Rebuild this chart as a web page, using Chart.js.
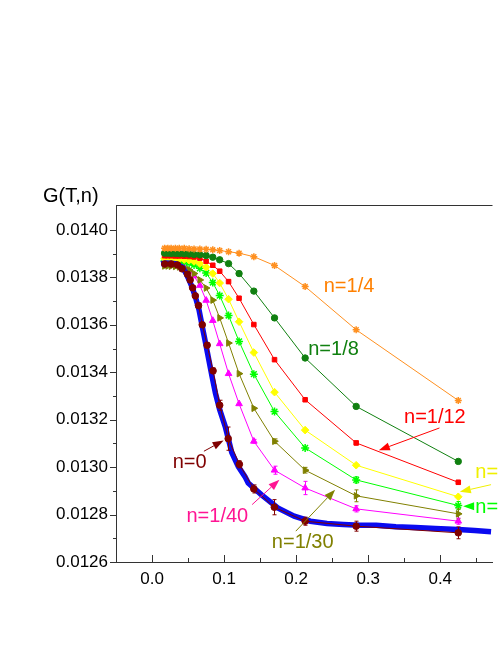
<!DOCTYPE html>
<html>
<head>
<meta charset="utf-8">
<script src="https://cdn.jsdelivr.net/npm/chart.js@4.4.0/dist/chart.umd.min.js"></script>
<style>
body { margin: 0; background: #fff; }
</style>
</head>
<body>
<canvas id="myChart-g" width="498" height="645"></canvas>
<script>
// temperature grid of the coloured series
const temps = [0.0174, 0.0219, 0.0265, 0.0324, 0.0378, 0.0447, 0.0515, 0.0583, 0.0664, 0.0751, 0.0843, 0.0939, 0.1062, 0.1208, 0.1413, 0.170, 0.2125, 0.2833, 0.425];

const gQuarter = [0.013923, 0.013923, 0.013923, 0.013923, 0.013923, 0.013923, 0.013921, 0.013920, 0.013919, 0.013918, 0.013916, 0.013913, 0.013908, 0.013902, 0.013887, 0.013850, 0.013761, 0.013579, 0.013281];
const gEighth = [0.013902, 0.013902, 0.013901, 0.013901, 0.013900, 0.013899, 0.013898, 0.013896, 0.013895, 0.013892, 0.013885, 0.013874, 0.013858, 0.013816, 0.013742, 0.013629, 0.013460, 0.013256, 0.013024];
const gTwelfth = [0.013891, 0.013891, 0.013891, 0.013890, 0.013890, 0.013889, 0.013888, 0.013886, 0.013881, 0.013868, 0.013851, 0.013826, 0.013782, 0.013712, 0.013601, 0.013453, 0.013284, 0.013102, 0.012936];
const gSixteenth = [0.013878, 0.013878, 0.013877, 0.013877, 0.013876, 0.013875, 0.013872, 0.013867, 0.013858, 0.013843, 0.013816, 0.013776, 0.013708, 0.013613, 0.013483, 0.013316, 0.013156, 0.013008, 0.012875];
const gTwentieth = [0.013869, 0.013869, 0.013868, 0.013867, 0.013866, 0.013864, 0.013860, 0.013852, 0.013838, 0.013818, 0.013778, 0.013723, 0.013639, 0.013530, 0.013392, 0.013234, 0.013081, 0.012946, 0.012838];
const gThirtieth = [0.013848, 0.013848, 0.013847, 0.013846, 0.013844, 0.013840, 0.013832, 0.013816, 0.013789, 0.013755, 0.013704, 0.013629, 0.013523, 0.013394, 0.013248, 0.013109, 0.012987, 0.012879, 0.012803];
const gFortieth = [0.013861, 0.013860, 0.013859, 0.013857, 0.013853, 0.013844, 0.013829, 0.013806, 0.013766, 0.013703, 0.013618, 0.013520, 0.013394, 0.013267, 0.013109, 0.012987, 0.012912, 0.012824, 0.012772];

// error bars (same index as temps)
const errTwelfth = [0,0,0,0,0,0,0,0,0,0,0,0,0,0,0,0,0,0.000008,0.000008];
const errTwentieth = [0,0,0,0,0,0,0,0,0,0,0,0,0,0,0,0,0,0.000013,0.000017];
const errThirtieth = [0,0,0,0,0,0,0,0,0,0,0,0,0,0,0,0.000010,0.000012,0.000025,0.000021];
const errFortieth = [0,0,0,0,0,0,0,0,0,0,0,0,0,0,0.000008,0.000017,0.000028,0.000013,0.000013];

// n=0, own temperature grid
const tZero = [0.0177, 0.0266, 0.0354, 0.0416, 0.0492, 0.0529, 0.0563, 0.0601, 0.0645, 0.0697, 0.0765, 0.0847, 0.0939, 0.1057, 0.1212, 0.1413, 0.1697, 0.2125, 0.2833, 0.425];
const gZero = [0.013856, 0.013856, 0.013852, 0.013836, 0.013813, 0.013789, 0.013756, 0.013722, 0.013681, 0.013600, 0.013514, 0.013406, 0.013261, 0.013120, 0.013012, 0.012908, 0.012831, 0.012772, 0.012751, 0.012723];
const errZero = [0, 0, 0, 0, 0, 0, 0.000008, 0.000008, 0.000010, 0.000010, 0.000010, 0.000012, 0.000021, 0.000049, 0.000015, 0.000017, 0.000032, 0.000017, 0.000021, 0.000025];

// dense blue curve
const tBlue = [0.0126, 0.0197, 0.0269, 0.0342, 0.0423, 0.0470, 0.0515, 0.0560, 0.0607, 0.0652, 0.0697, 0.0743, 0.0788, 0.0833, 0.0880, 0.0939, 0.1016, 0.1107, 0.1198, 0.1290, 0.1335, 0.1516, 0.1745, 0.1973, 0.2199, 0.2428, 0.2656, 0.2883, 0.3111, 0.3384, 0.3657, 0.3930, 0.4249, 0.4477, 0.4705];
const gBlue = [0.013857, 0.013860, 0.013859, 0.013857, 0.013843, 0.013818, 0.013789, 0.013755, 0.013712, 0.013663, 0.013593, 0.013523, 0.013453, 0.013382, 0.013312, 0.013242, 0.013171, 0.013061, 0.013002, 0.012960, 0.012933, 0.012884, 0.012828, 0.012793, 0.012772, 0.012762, 0.012758, 0.012755, 0.012755, 0.012749, 0.012745, 0.012741, 0.012737, 0.012733, 0.012728];

const xTicks = [0.0, 0.1, 0.2, 0.3, 0.4];
const xMinor = [-0.05, 0.05, 0.15, 0.25, 0.35, 0.45];
const yTicks = [0.0126, 0.0128, 0.0130, 0.0132, 0.0134, 0.0136, 0.0138, 0.0140];
const yMinor = [0.0127, 0.0129, 0.0131, 0.0133, 0.0135, 0.0137, 0.0139];

const FONT = '"Liberation Sans", Arial, sans-serif';

function pts(xs, ys) {
    return xs.map((x, i) => ({ x: x, y: ys[i] }));
}

function series(ys, color, style, radius, extra) {
    return Object.assign({
        data: pts(temps, ys),
        showLine: true,
        borderColor: color,
        backgroundColor: color,
        borderWidth: 1,
        pointStyle: style,
        pointRadius: radius,
        pointBorderWidth: 1,
        order: 2
    }, extra || {});
}

// text labels with arrows, in data units
const notes = [
    { text: 'n=1/4', color: '#ff8000', x: 0.2383, y: 0.013740 },
    { text: 'n=1/8', color: '#108010', x: 0.2168, y: 0.013474 },
    { text: 'n=1/12', color: '#ff0000', x: 0.3497, y: 0.013187, arrow: [0.3989, 0.013165, 0.3148, 0.013071] },
    { text: 'n=1/16', color: '#f0f000', x: 0.4486, y: 0.012953, arrow: [0.4705, 0.012926, 0.4272, 0.012896] },
    { text: 'n=1/20', color: '#00ff00', x: 0.4486, y: 0.012807, arrow: [0.4453, 0.012835, 0.4317, 0.012835] },
    { text: 'n=0', color: '#800000', x: 0.0287, y: 0.012997, arrow: [0.0720, 0.013067, 0.0993, 0.013112] },
    { text: 'n=1/40', color: '#ff1493', x: 0.0478, y: 0.012768, arrow: [0.1389, 0.012842, 0.1768, 0.012947] },
    { text: 'n=1/30', color: '#808000', x: 0.1663, y: 0.012660, arrow: [0.1995, 0.012730, 0.2541, 0.012905] }
];

const extras = {
    id: 'extras',
    afterDatasetsDraw(chart) {
        const { ctx, chartArea: a, scales: { x, y } } = chart;
        ctx.save();
        ctx.beginPath();
        ctx.rect(a.left, a.top, a.right - a.left, a.bottom - a.top);
        ctx.clip();
        ctx.lineWidth = 1;
        chart.data.datasets.forEach(ds => {
            if (!ds.errors) return;
            ctx.strokeStyle = ds.borderColor;
            ds.data.forEach((p, i) => {
                const e = ds.errors[i];
                if (!e) return;
                const px = Math.round(x.getPixelForValue(p.x)) + 0.5;
                const y1 = y.getPixelForValue(p.y - e);
                const y2 = y.getPixelForValue(p.y + e);
                ctx.beginPath();
                ctx.moveTo(px, y1); ctx.lineTo(px, y2);
                ctx.moveTo(px - 2, y1); ctx.lineTo(px + 2, y1);
                ctx.moveTo(px - 2, y2); ctx.lineTo(px + 2, y2);
                ctx.stroke();
            });
        });
        ctx.restore();
    },
    afterDraw(chart) {
        const { ctx, chartArea: a, scales: { x, y } } = chart;
        ctx.save();
        // top frame line
        ctx.strokeStyle = '#333';
        ctx.lineWidth = 1;
        ctx.beginPath();
        ctx.moveTo(a.left, a.top + 0.5);
        ctx.lineTo(a.right, a.top + 0.5);
        ctx.stroke();
        // y ticks (outward), x ticks (inward)
        ctx.beginPath();
        yTicks.forEach(v => {
            const py = Math.round(y.getPixelForValue(v)) + 0.5;
            ctx.moveTo(a.left - 6, py); ctx.lineTo(a.left, py);
        });
        yMinor.forEach(v => {
            const py = Math.round(y.getPixelForValue(v)) + 0.5;
            ctx.moveTo(a.left - 3, py); ctx.lineTo(a.left, py);
        });
        xTicks.forEach(v => {
            const px = Math.round(x.getPixelForValue(v)) + 0.5;
            ctx.moveTo(px, a.bottom); ctx.lineTo(px, a.bottom - 7);
        });
        xMinor.forEach(v => {
            const px = Math.round(x.getPixelForValue(v)) + 0.5;
            ctx.moveTo(px, a.bottom); ctx.lineTo(px, a.bottom - 4);
        });
        ctx.stroke();

        // axis title
        ctx.fillStyle = '#000';
        ctx.font = '20px ' + FONT;
        ctx.textBaseline = 'alphabetic';
        ctx.fillText('G(T,n)', 43, 202);

        // labels and arrows
        notes.forEach(n => {
            ctx.fillStyle = n.color;
            ctx.strokeStyle = n.color;
            ctx.font = '20px ' + FONT;
            ctx.fillText(n.text, x.getPixelForValue(n.x), y.getPixelForValue(n.y));
            if (n.arrow) {
                const x1 = x.getPixelForValue(n.arrow[0]), y1 = y.getPixelForValue(n.arrow[1]);
                const x2 = x.getPixelForValue(n.arrow[2]), y2 = y.getPixelForValue(n.arrow[3]);
                const ang = Math.atan2(y2 - y1, x2 - x1);
                const len = 11, half = 4;
                const bx = x2 - len * Math.cos(ang), by = y2 - len * Math.sin(ang);
                ctx.lineWidth = 1;
                ctx.beginPath();
                ctx.moveTo(x1, y1); ctx.lineTo(bx, by);
                ctx.stroke();
                ctx.beginPath();
                ctx.moveTo(x2, y2);
                ctx.lineTo(bx + half * Math.sin(ang), by - half * Math.cos(ang));
                ctx.lineTo(bx - half * Math.sin(ang), by + half * Math.cos(ang));
                ctx.closePath();
                ctx.fill();
            }
        });
        ctx.restore();
    }
};

const ctxG = document.getElementById('myChart-g').getContext('2d');
const chartG = new Chart(ctxG, {
    type: 'scatter',
    data: {
        datasets: [
            series(gQuarter, '#ff9020', 'star', 3.5, { pointBorderWidth: 1.5 }),
            series(gEighth, '#108010', 'circle', 3.2),
            series(gTwelfth, '#ff0000', 'rect', 3.2, { errors: errTwelfth }),
            series(gSixteenth, '#ffff00', 'rectRot', 3.8),
            series(gTwentieth, '#00ff00', 'star', 4, { pointBorderWidth: 1.5, errors: errTwentieth }),
            series(gThirtieth, '#808000', 'triangle', 3.8, { pointRotation: 90, errors: errThirtieth }),
            series(gFortieth, '#ff00ff', 'triangle', 3.8, { errors: errFortieth }),
            {
                data: pts(tBlue, gBlue),
                showLine: true,
                borderColor: '#0a0af0',
                backgroundColor: '#0a0af0',
                borderWidth: 5.5,
                pointRadius: 0,
                order: 1
            },
            {
                data: pts(tZero, gZero),
                showLine: true,
                borderColor: '#800000',
                backgroundColor: '#800000',
                borderWidth: 1,
                pointStyle: 'circle',
                pointRadius: 3.3,
                errors: errZero,
                order: 0
            }
        ]
    },
    options: {
        responsive: false,
        animation: false,
        devicePixelRatio: 1,
        layout: { padding: { top: 205, left: 0, right: 0, bottom: 0 } },
        plugins: { legend: { display: false }, tooltip: { enabled: false } },
        scales: {
            x: {
                type: 'linear',
                min: -0.05,
                max: 0.4725,
                grid: { display: false, drawTicks: false },
                border: { display: true, color: '#333', width: 1 },
                ticks: {
                    color: '#000',
                    padding: 7,
                    font: { size: 17, family: FONT },
                    callback: v => v.toFixed(1)
                },
                afterBuildTicks: s => { s.ticks = xTicks.map(v => ({ value: v })); },
                afterFit: s => { s.height = 83; }
            },
            y: {
                type: 'linear',
                min: 0.0126,
                max: 0.014105,
                grid: { display: false, drawTicks: false },
                border: { display: true, color: '#333', width: 1 },
                ticks: {
                    color: '#000',
                    padding: 8,
                    font: { size: 17, family: FONT },
                    callback: v => v.toFixed(4)
                },
                afterBuildTicks: s => { s.ticks = yTicks.map(v => ({ value: v })); },
                afterFit: s => { s.width = 116; }
            }
        }
    },
    plugins: [extras]
});
</script>
</body>
</html>
